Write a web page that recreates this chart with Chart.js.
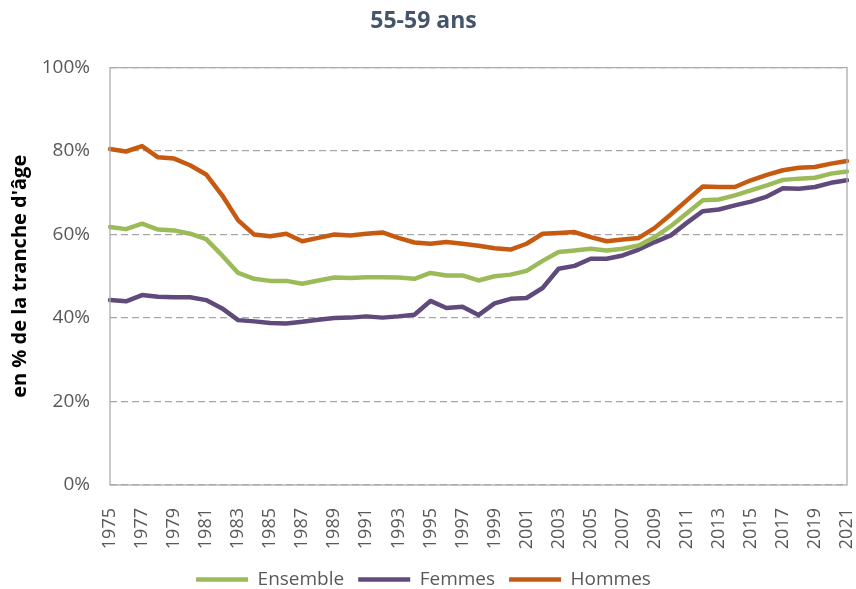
<!DOCTYPE html>
<html>
<head>
<meta charset="utf-8">
<script src="https://cdn.jsdelivr.net/npm/chart.js@4.4.1/dist/chart.umd.min.js"></script>
<style>
  html, body { margin: 0; padding: 0; background: #fff; }
  canvas { display: block; }
</style>
</head>
<body>
<canvas id="chart" width="856" height="589"></canvas>
<script>
    // Taux d'emploi des 55-59 ans, en % de la tranche d'âge
    const years = [];
    for (let y = 1975; y <= 2021; y++) years.push(String(y));

    const ensemble = [61.8, 61.3, 62.6, 61.2, 61.0, 60.2, 58.9, 55.0, 50.8, 49.4, 48.9, 48.9, 48.2, 49.0, 49.7,
        49.6, 49.8, 49.8, 49.7, 49.4, 50.8, 50.2, 50.2, 49.0, 50.0, 50.4, 51.3, 53.7, 55.8, 56.2, 56.6,
        56.2, 56.6, 57.4, 59.4, 62.0, 65.1, 68.2, 68.4, 69.4, 70.6, 71.8, 73.1, 73.4, 73.6, 74.6, 75.1];
    const femmes = [44.3, 44.0, 45.5, 45.1, 45.0, 45.0, 44.3, 42.3, 39.5, 39.2, 38.8, 38.7, 39.1, 39.6, 40.0,
        40.1, 40.4, 40.1, 40.4, 40.8, 44.1, 42.4, 42.7, 40.7, 43.5, 44.6, 44.8, 47.2, 51.8, 52.5, 54.2,
        54.2, 55.0, 56.4, 58.2, 59.8, 62.8, 65.6, 66.0, 67.0, 67.9, 69.1, 71.1, 71.0, 71.4, 72.4, 73.0];
    const hommes = [80.5, 79.9, 81.2, 78.5, 78.2, 76.6, 74.4, 69.4, 63.4, 60.0, 59.6, 60.2, 58.4, 59.2, 60.0,
        59.8, 60.2, 60.5, 59.2, 58.1, 57.8, 58.2, 57.8, 57.3, 56.7, 56.4, 57.8, 60.2, 60.4, 60.6, 59.4,
        58.4, 58.8, 59.2, 61.6, 64.8, 68.2, 71.5, 71.4, 71.4, 73.0, 74.3, 75.4, 76.0, 76.2, 77.0, 77.6];

    const yTicks = [0, 20, 40, 60, 80, 100];

    const textColor = '#595959';
    const font = 'Open Sans';

    // cadre gris autour de la zone de tracé
    const frame = {
        id: 'frame',
        afterDatasetsDraw(chart) {
            const a = chart.chartArea;
            const ctx = chart.ctx;
            ctx.save();
            ctx.strokeStyle = '#ADADAD';
            ctx.lineWidth = 1.3;
            ctx.strokeRect(a.left, a.top, a.right - a.left, a.bottom - a.top);
            ctx.restore();
        }
    };

    function serie(label, data, color) {
        return {
            label: label,
            data: data,
            borderColor: color,
            backgroundColor: color,
            borderWidth: 4.5,
            borderCapStyle: 'round',
            borderJoinStyle: 'round',
            pointRadius: 0,
            tension: 0
        };
    }

    new Chart(document.getElementById('chart'), {
        type: 'line',
        data: {
            labels: years,
            datasets: [
                serie('Ensemble', ensemble, '#9BBB59'),
                serie('Femmes', femmes, '#604A7B'),
                serie('Hommes', hommes, '#C65A11')
            ]
        },
        plugins: [frame],
        options: {
            responsive: false,
            animation: false,
            devicePixelRatio: 1,
            // la légende descend un peu sous le bas du canvas (marge vide)
            layout: { padding: { left: 0, right: 9, top: 0, bottom: -10 } },
            plugins: {
                title: {
                    display: true,
                    text: '55-59 ans',
                    color: '#44546A',
                    font: { family: font, size: 23, weight: 'bold' },
                    padding: { top: 8, bottom: 32 }
                },
                legend: {
                    position: 'bottom',
                    labels: {
                        usePointStyle: true,
                        pointStyle: 'line',
                        pointStyleWidth: 52,
                        color: textColor,
                        font: { family: font, size: 19 },
                        padding: 14
                    }
                },
                tooltip: { enabled: false }
            },
            scales: {
                x: {
                    offset: false,
                    grid: { display: false },
                    border: { display: false },
                    ticks: {
                        autoSkip: false,
                        minRotation: 90,
                        maxRotation: 90,
                        padding: 15,
                        color: textColor,
                        font: { family: font, size: 18 },
                        callback: (v, i) => (i % 2 === 0 ? years[i] : '')
                    },
                    afterFit: s => {
                        s.height = 71;
                        s.paddingLeft = 0;
                        s.paddingRight = 0;
                    }
                },
                y: {
                    min: 0,
                    max: 100,
                    afterBuildTicks: s => { s.ticks = yTicks.map(v => ({ value: v })); },
                    grid: {
                        color: '#A6A6A6',
                        lineWidth: 1.3,
                        drawTicks: false
                    },
                    border: { display: false, dash: [7, 4] },
                    ticks: {
                        padding: 20,
                        color: textColor,
                        font: { family: font, size: 19 },
                        callback: v => v + '%'
                    },
                    title: {
                        display: true,
                        text: "en % de la tranche d'âge",
                        color: '#000',
                        font: { family: font, size: 20, weight: 'bold' },
                        padding: { top: 8, bottom: 0 }
                    },
                    afterFit: s => { s.width = 110; }
                }
            }
        }
    });
</script>
</body>
</html>
